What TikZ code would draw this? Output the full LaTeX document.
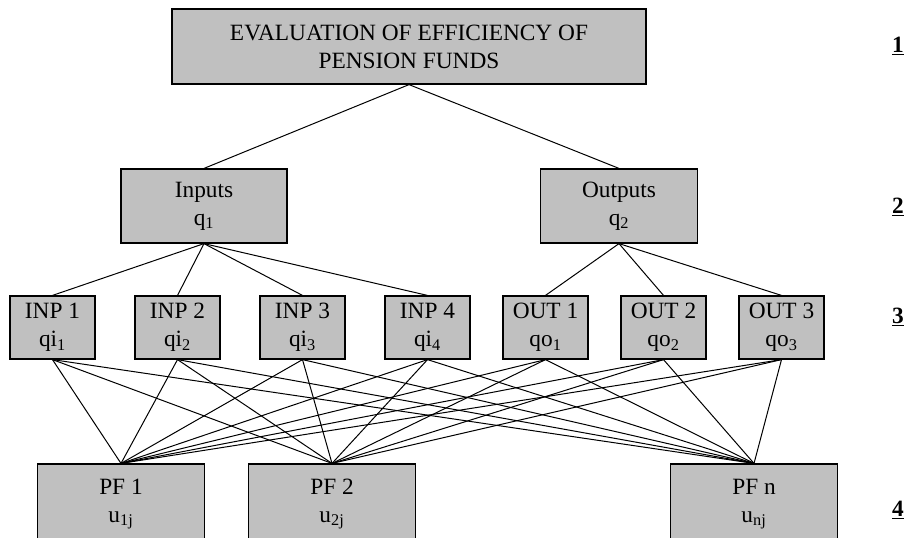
\documentclass[tikz,border=0pt]{standalone}
\usepackage{fontspec}
\setmainfont{Liberation Serif}
\definecolor{boxgray}{RGB}{192,192,192}
\tikzset{
  box/.style={draw, line width=0.9pt, fill=boxgray, align=center, inner sep=0pt,
    font=\fontsize{17.5}{21}\selectfont},
  level/.style={font=\fontsize{17.5}{21}\selectfont\bfseries},
  link/.style={line width=0.75pt}
}
\begin{document}
\begin{tikzpicture}[x=0.75pt,y=0.75pt,yscale=-1,xscale=1]
\useasboundingbox (0,0) rectangle (909,537);

%Top box
\node [box, minimum width=355.5pt, minimum height=56.25pt] (eval) at (409,46.5) {EVALUATION OF EFFICIENCY OF\\PENSION FUNDS};

%Criteria
\node [box, minimum width=124.5pt, minimum height=55.5pt] (inputs) at (204,206) {Inputs\\q\textsubscript{1}};
\node [box, minimum width=118pt, minimum height=55.5pt] (outputs) at (619,206) {Outputs\\q\textsubscript{2}};

%Sub-criteria
\node [box, minimum width=63.75pt, minimum height=47.25pt] (inp1) at (52.5,327.5) {INP 1\\qi\textsubscript{1}};
\node [box, minimum width=63.75pt, minimum height=47.25pt] (inp2) at (177.5,327.5) {INP 2\\qi\textsubscript{2}};
\node [box, minimum width=63.75pt, minimum height=47.25pt] (inp3) at (302.5,327.5) {INP 3\\qi\textsubscript{3}};
\node [box, minimum width=63.75pt, minimum height=47.25pt] (inp4) at (427.5,327.5) {INP 4\\qi\textsubscript{4}};
\node [box, minimum width=63.75pt, minimum height=47.25pt] (out1) at (545.5,327.5) {OUT 1\\qo\textsubscript{1}};
\node [box, minimum width=63.75pt, minimum height=47.25pt] (out2) at (663.5,327.5) {OUT 2\\qo\textsubscript{2}};
\node [box, minimum width=63.75pt, minimum height=47.25pt] (out3) at (781.5,327.5) {OUT 3\\qo\textsubscript{3}};

%Pension funds
\node [box, minimum width=125pt, minimum height=60pt] (pf1) at (121,504) {PF 1\\u\textsubscript{1j}};
\node [box, minimum width=125pt, minimum height=60pt] (pf2) at (332,504) {PF 2\\u\textsubscript{2j}};
\node [box, minimum width=125pt, minimum height=60pt] (pfn) at (754,504) {PF n\\u\textsubscript{nj}};

%Level numbers
\node [level] (lev1) at (898,46) {\underline{1}};
\node [level] (lev2) at (898,207) {\underline{2}};
\node [level] (lev3) at (898,317) {\underline{3}};
\node [level] (lev4) at (898,510) {\underline{4}};

%Links
\draw [link] (eval.south) -- (inputs.north);
\draw [link] (eval.south) -- (outputs.north);
\foreach \n in {inp1,inp2,inp3,inp4}
  \draw [link] (inputs.south) -- (\n.north);
\foreach \n in {out1,out2,out3}
  \draw [link] (outputs.south) -- (\n.north);
\foreach \n in {inp1,inp2,inp3,inp4,out1,out2,out3}
  \foreach \m in {pf1,pf2,pfn}
    \draw [link] (\n.south) -- (\m.north);

\end{tikzpicture}
\end{document}
